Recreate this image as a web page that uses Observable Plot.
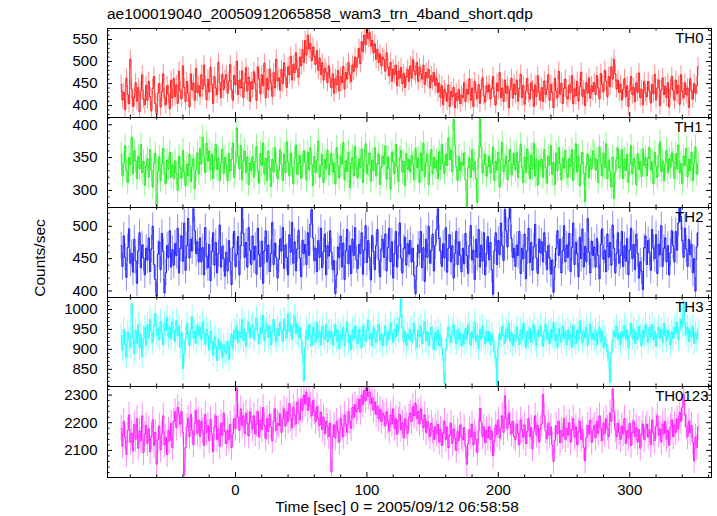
<!DOCTYPE html>
<html><head><meta charset="utf-8">
<script src="https://cdn.jsdelivr.net/npm/d3@7"></script>
<script src="https://cdn.jsdelivr.net/npm/@observablehq/plot@0.6"></script>
<style>
body{margin:0;background:#fff;}
#chart{position:relative;width:717px;height:516px;overflow:hidden;font-family:"Liberation Sans",Arial,sans-serif;color:#000;background:#fff;}
.txt{position:absolute;white-space:nowrap;font-size:15.5px;line-height:15.5px;}
#chart svg{position:absolute;left:0;overflow:visible;}
</style></head><body>
<div id="chart">
<div class="txt" style="left:107px;top:6px">ae100019040_20050912065858_wam3_trn_4band_short.qdp</div>
<div class="txt" style="left:40px;top:258px;transform:translate(-50%,-50%) rotate(-90deg)">Counts/sec</div>
<div class="txt" style="left:397px;top:498.5px;transform:translateX(-50%)">Time [sec] 0 = 2005/09/12 06:58:58</div>
</div>
<script>
// time bins (sec): first bin centre and bin width
const tStart = -87;
const binSize = 1;

const th0 = [
448,413,430,391,462,425,404,505,437,398,419,452,410,441,386,433,470,415,402,446,
412,455,420,388,439,466,405,380,428,450,397,431,472,418,402,445,426,393,458,417,
462,420,447,405,478,433,416,490,441,409,455,428,397,472,436,451,412,484,430,445,
421,470,438,492,446,413,460,431,487,448,405,466,440,425,498,452,418,471,436,460,
470,428,455,493,436,412,468,447,501,425,458,440,479,418,452,486,433,465,410,454,
438,477,451,412,488,460,427,470,445,496,418,462,437,483,452,421,475,440,505,456,
463,435,482,450,497,466,441,488,470,512,458,493,475,520,482,465,510,490,527,498,
548,515,560,528,541,502,533,512,494,525,480,508,470,497,458,485,476,452,490,463,
440,472,428,461,447,480,433,466,452,489,438,475,460,498,470,455,492,478,510,486,
508,530,495,545,522,560,538,575,552,566,535,548,520,540,505,528,498,517,490,510,
505,478,520,486,468,498,455,483,470,492,445,478,462,487,450,473,441,466,482,455,
490,462,505,478,470,498,455,487,472,460,492,448,475,463,482,440,468,455,475,446,
462,430,451,418,445,402,436,428,410,447,398,432,420,441,395,428,412,437,405,423,
418,452,409,437,426,461,412,440,398,455,430,416,448,405,437,463,422,408,445,431,
447,415,438,466,420,402,451,433,475,418,440,409,458,428,444,395,436,462,417,449,
425,458,410,439,471,418,446,403,433,462,427,415,452,436,398,447,421,468,430,412,
441,409,456,425,437,470,412,448,430,395,462,433,418,478,426,451,405,439,460,420,
415,447,430,468,404,438,422,455,410,443,476,421,436,400,452,428,463,417,445,432,
452,425,468,440,415,473,448,432,480,455,420,466,443,488,460,505,472,438,458,430,
448,413,437,461,420,445,398,433,466,425,441,409,452,430,474,418,437,402,455,428,
420,455,433,406,448,427,471,413,440,458,400,436,463,425,444,418,452,397,438,466,
435,412,458,427,446,403,470,432,418,452,425,440,396,461,433,415,450,428,445,488];

const th1 = [
355,322,341,368,330,312,350,339,381,326,360,345,318,352,333,370,327,344,308,337,
348,320,362,331,305,342,356,276,329,351,315,340,364,325,311,346,333,358,320,339,
318,345,326,300,352,334,319,361,328,307,340,322,355,313,336,348,303,331,357,325,
364,340,381,352,327,372,345,360,331,355,318,346,370,332,349,315,341,363,326,350,
338,315,356,329,347,372,320,341,395,352,333,368,316,345,360,327,351,309,342,330,
352,320,344,367,330,311,356,338,372,325,349,315,360,334,306,347,328,365,340,318,
331,362,340,315,355,327,374,343,322,357,336,310,348,369,325,341,353,318,337,360,
343,316,358,331,365,340,307,352,327,346,375,320,338,354,312,347,333,361,324,339,
356,328,342,310,365,337,319,352,340,373,316,345,329,358,304,341,350,322,367,334,
320,348,335,363,312,345,371,326,339,357,314,346,330,365,322,341,355,309,336,352,
340,368,317,351,333,302,358,344,325,370,336,313,349,361,328,344,307,356,332,347,
328,353,341,316,364,335,349,312,357,330,372,321,343,355,309,338,362,325,350,334,
345,318,359,332,370,341,326,355,338,380,347,362,328,408,369,336,315,352,330,343,
338,357,316,275,335,349,320,362,331,344,318,282,350,410,366,327,340,355,322,336,
352,327,340,366,315,344,331,358,305,347,373,329,338,352,316,345,362,324,339,356,
331,358,320,344,370,336,312,351,327,363,340,318,354,333,372,322,347,308,345,336,
347,320,362,335,311,352,339,368,324,343,309,357,330,365,340,316,349,334,361,326,
320,349,336,362,315,343,371,328,352,307,340,358,326,283,338,355,319,347,333,360,
355,331,347,312,366,340,322,357,335,371,318,346,330,305,351,288,327,348,364,334,
336,362,318,347,330,355,312,340,368,325,349,337,309,356,332,344,321,363,338,350,
322,349,365,331,343,310,358,336,320,352,374,329,345,315,340,361,327,348,335,357,
345,318,356,333,369,327,341,310,352,338,364,321,347,330,358,315,342,366,325,340];

const th2 = [
470,438,485,452,421,467,496,443,458,429,480,447,412,462,490,436,471,451,425,466,
448,482,430,465,500,441,418,392,457,476,433,489,461,397,428,470,452,493,437,464,
440,473,455,497,428,466,485,446,505,432,470,512,451,480,462,527,493,458,476,445,
482,445,467,425,498,453,436,472,416,461,490,440,475,428,458,502,437,469,450,423,
460,431,478,445,410,467,492,438,456,484,425,470,528,489,452,475,437,498,463,441,
485,448,469,426,497,456,438,477,412,462,493,445,471,430,458,506,441,474,452,420,
449,480,462,498,435,471,452,425,487,460,506,443,476,431,465,494,451,422,478,458,
472,441,490,455,503,526,482,447,466,430,478,452,497,436,461,488,425,470,454,493,
460,433,447,396,425,468,452,485,437,474,418,462,495,442,470,427,480,455,498,448,
435,472,458,490,426,463,501,444,478,452,417,486,461,433,470,495,448,422,465,480,
452,488,431,467,497,445,476,420,458,492,437,470,505,451,428,466,483,440,473,457,
478,445,466,424,396,438,471,459,492,436,467,415,480,452,500,443,462,488,431,470,
495,527,481,462,438,473,451,498,429,466,487,445,470,420,458,492,441,476,455,430,
466,442,489,455,427,470,501,448,463,418,480,452,495,437,471,446,490,425,458,484,
448,475,433,395,462,490,441,478,456,505,470,447,526,493,468,512,527,481,452,466,
438,471,455,492,427,466,450,488,419,462,497,444,475,432,468,503,451,427,480,459,
476,445,490,461,433,470,452,426,448,398,437,466,493,455,480,428,462,501,445,471,
452,489,430,467,505,441,475,458,422,483,450,496,437,469,445,512,460,428,477,455,
468,437,481,455,419,472,496,449,463,430,488,452,475,440,502,466,428,458,490,443,
455,492,438,470,446,481,425,463,497,450,472,433,488,458,420,445,431,402,467,485,
441,478,460,432,495,466,450,487,427,472,456,501,438,466,482,445,470,425,459,493,
470,445,492,463,505,528,515,478,452,497,465,438,480,456,472,428,450,400,468,490];

const th3 = [
935,898,950,912,880,943,925,905,1015,930,890,948,915,962,903,937,882,928,955,910,
962,928,975,945,918,958,990,936,952,925,970,940,912,965,947,980,931,955,926,968,
948,920,972,935,958,905,942,852,890,925,965,938,910,950,982,928,945,915,960,936,
955,925,968,940,912,950,935,898,945,920,885,930,908,872,925,900,918,880,912,895,
890,920,875,910,938,902,948,925,960,918,945,930,975,922,950,908,942,968,930,955,
962,925,950,978,938,915,955,940,985,922,948,965,930,958,912,945,975,935,920,952,
935,968,948,920,975,950,930,990,945,962,925,958,982,940,965,930,955,925,888,822,
905,948,925,962,935,910,955,940,918,968,930,945,912,958,935,925,962,918,945,930,
945,912,935,962,920,948,902,938,925,955,910,942,968,918,935,900,948,925,958,930,
915,950,928,905,960,935,920,948,972,925,940,908,955,930,918,945,962,922,938,910,
935,958,912,945,925,965,940,918,950,932,962,945,980,1028,955,920,945,910,938,925,
950,918,940,965,925,905,948,932,958,915,942,968,922,945,910,938,955,928,900,942,
925,948,910,935,900,882,815,898,928,955,935,918,945,962,930,915,950,925,940,908,
938,915,952,925,962,940,910,945,928,968,920,935,902,950,925,958,932,915,945,920,
945,912,938,920,895,880,810,905,940,925,958,935,915,950,928,965,920,942,910,935,
920,955,930,912,948,925,965,938,905,945,928,952,918,940,962,925,910,948,932,958,
935,908,945,962,925,940,915,950,930,968,922,938,905,952,935,918,958,928,945,912,
950,925,938,905,960,932,915,948,925,972,940,918,945,930,955,910,938,962,925,940,
925,948,912,938,955,920,945,905,930,912,895,878,818,892,920,945,932,958,925,940,
912,945,930,960,925,948,905,938,965,928,950,915,942,925,958,935,910,948,930,962,
940,918,955,932,962,925,945,908,938,955,928,950,918,965,935,922,948,930,912,945,
928,955,940,968,925,950,975,958,1020,962,938,955,920,948,932,958,915,940,925,948];

const th0123 = [
2180,2115,2205,2148,2085,2172,2228,2130,2162,2098,2195,2140,2215,2108,2170,2135,2225,2092,2158,2190,
2125,2178,2095,2150,2210,2118,2165,2050,2138,2188,2102,2160,2225,2120,2148,2085,2172,2135,2198,2110,
2205,2240,2182,2255,2228,2195,2240,2165,2012,2110,2185,2215,2150,2230,2172,2120,2198,2245,2160,2210,
2150,2205,2172,2118,2230,2165,2190,2135,2212,2158,2095,2185,2225,2140,2178,2115,2198,2155,2235,2168,
2125,2172,2140,2195,2110,2160,2215,2180,2325,2220,2172,2250,2190,2225,2160,2235,2198,2152,2240,2205,
2178,2225,2160,2195,2240,2148,2210,2175,2255,2190,2142,2215,2168,2230,2185,2135,2205,2250,2172,2198,
2190,2232,2165,2215,2250,2188,2240,2205,2270,2215,2182,2255,2228,2195,2275,2240,2210,2285,2245,2300,
2268,2310,2245,2290,2262,2225,2280,2240,2205,2258,2215,2190,2238,2175,2220,2160,2205,2185,2150,2198,
2022,2150,2192,2145,2205,2170,2130,2215,2185,2150,2228,2195,2165,2240,2205,2180,2255,2220,2265,2240,
2250,2285,2238,2300,2265,2318,2280,2325,2295,2310,2270,2290,2245,2275,2230,2260,2215,2248,2205,2235,
2225,2190,2240,2205,2170,2228,2195,2250,2180,2215,2158,2208,2230,2175,2200,2145,2215,2188,2162,2220,
2235,2205,2258,2225,2270,2215,2240,2195,2250,2210,2182,2228,2165,2205,2180,2150,2198,2170,2140,2185,
2160,2195,2130,2175,2118,2162,2205,2140,2185,2110,2155,2198,2125,2178,2145,2100,2168,2135,2192,2150,
2138,2182,2115,2050,2125,2175,2148,2195,2120,2165,2140,2092,2170,2252,2205,2150,2185,2128,2172,2145,
2185,2140,2170,2080,2135,2192,2158,2210,2145,2180,2225,2165,2298,2215,2180,2235,2195,2160,2205,2150,
2140,2195,2162,2120,2210,2175,2148,2192,2125,2168,2215,2150,2182,2105,2170,2225,2155,2190,2130,2178,
2195,2302,2225,2170,2142,2198,2155,2185,2120,2060,2135,2190,2160,2205,2128,2172,2150,2215,2140,2180,
2155,2200,2130,2175,2215,2148,2185,2120,2168,2205,2140,2175,2110,2062,2145,2190,2158,2210,2130,2172,
2190,2145,2205,2162,2225,2178,2135,2198,2160,2215,2180,2150,2235,2205,2322,2240,2175,2150,2198,2165,
2140,2188,2160,2215,2125,2172,2145,2198,2118,2165,2205,2150,2182,2130,2175,2108,2160,2195,2140,2178,
2195,2148,2175,2120,2210,2162,2135,2188,2225,2155,2178,2130,2195,2160,2205,2140,2172,2118,2185,2210,
2150,2192,2165,2215,2178,2238,2205,2255,2302,2230,2185,2150,2205,2165,2190,2130,2062,2148,2110,2185];

const bandNames = ["TH0", "TH1", "TH2", "TH3", "TH0123"];
const bandErrors = [21, 18, 21, 30, 47];
const yMajorTicks = [[400,450,500,550],[300,350,400],[400,450,500],[850,900,950,1000],[2100,2200,2300]];
const yMinorStep = [10, 10, 10, 10, 20];
const xTickLabels = [0, 100, 200, 300];
const xMinorStep = 20;

// layout / style
const bandColors = ["#ff0000", "#00ee00", "#0000ff", "#00ffff", "#ff00ff"];
const yDomains = [[373,575],[274,411],[390,529],[807,1030],[2002,2331]];
const xDomain = [-97.4, 362.2];
const panelTops = [28, 117, 207, 297, 386];
const panelBottoms = [117, 207, 297, 386, 477];
const labelDx = [-8, -9, -8, -8, -3];

const W = 717, ML = 107, MR = 6, frameW = W - ML - MR;
const font = '"Liberation Sans", Arial, sans-serif';
const series = [th0, th1, th2, th3, th0123];
const chart = document.getElementById("chart");

series.forEach((vals, i) => {
  const data = vals.map((v, k) => ({t: tStart + k * binSize, v}));
  const isLast = i === series.length - 1;
  const fh = panelBottoms[i] - panelTops[i];
  const mb = isLast ? 40 : 1;
  const [y0, y1] = yDomains[i];
  const st = yMinorStep[i];
  const major = yMajorTicks[i];
  const minor = d3.range(Math.ceil(y0 / st) * st, y1, st).filter(v => !major.includes(v));
  const xt = d3.range(Math.ceil(xDomain[0] / xMinorStep) * xMinorStep, xDomain[1], xMinorStep);
  const xMaj = xt.filter(v => v % 100 === 0);
  const xMin = xt.filter(v => v % 100 !== 0);
  const err = bandErrors[i];
  const color = bandColors[i];
  const marks = [
    Plot.ruleX(data, {x: "t", y1: d => d.v - err, y2: d => d.v + err, stroke: color, strokeOpacity: 0.45, strokeWidth: 1, clip: true}),
    Plot.line(data, {x: "t", y: "v", curve: "step", stroke: color, strokeWidth: 1, strokeOpacity: 0.85, clip: true}),
    Plot.frame({stroke: "#000"}),
    Plot.tickY(minor, {y: d => d, insetRight: frameW - 2.5, stroke: "#000"}),
    Plot.tickY(major, {y: d => d, insetRight: frameW - 5, stroke: "#000"}),
    Plot.tickY(minor, {y: d => d, insetLeft: frameW - 2.5, stroke: "#000"}),
    Plot.tickY(major, {y: d => d, insetLeft: frameW - 5, stroke: "#000"}),
    Plot.tickX(xMin, {x: d => d, insetBottom: fh - 2.5, stroke: "#000"}),
    Plot.tickX(xMaj, {x: d => d, insetBottom: fh - 5, stroke: "#000"}),
    Plot.tickX(xMin, {x: d => d, insetTop: fh - 2.5, stroke: "#000"}),
    Plot.tickX(xMaj, {x: d => d, insetTop: fh - 5, stroke: "#000"}),
    Plot.axisY(major, {tickSize: 0, tickPadding: 10, label: null, fontSize: 15, tickFormat: d => String(d)}),
    Plot.text([bandNames[i]], {frameAnchor: "top-right", text: d => d, dx: labelDx[i], dy: 4.3, lineAnchor: "top", fontSize: 15, fill: "#000"})
  ];
  if (isLast) marks.push(Plot.axisX(xTickLabels, {tickSize: 0, tickPadding: 7, label: null, fontSize: 15, tickFormat: d => String(d)}));
  const svg = Plot.plot({
    width: W, height: fh + 1 + mb,
    marginLeft: ML, marginRight: MR, marginTop: 1, marginBottom: mb,
    x: isLast ? {domain: xDomain} : {domain: xDomain, axis: null},
    y: {domain: yDomains[i]},
    style: {fontFamily: font, fontSize: "15px", background: "transparent", color: "#000", overflow: "visible"},
    marks
  });
  svg.style.top = (panelTops[i] - 1) + "px";
  chart.appendChild(svg);
});
</script>
</body></html>
